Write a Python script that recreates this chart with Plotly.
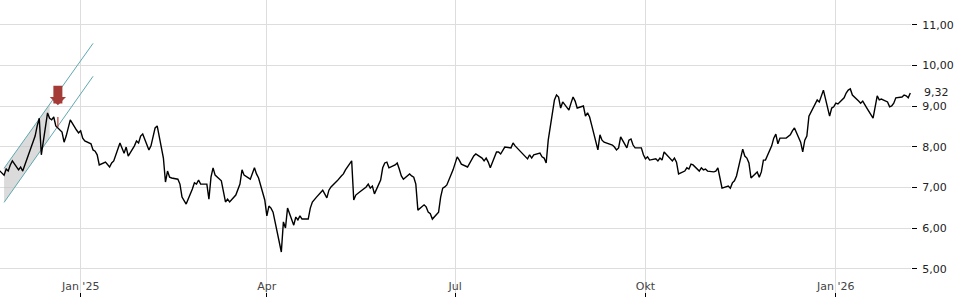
import pandas as pd
import plotly.graph_objects as go

# ---- data ----
trade_dates = pd.bdate_range("2024-11-22", "2026-02-06")
prices = [
    7.45,
    7.30, 7.45, 7.40, 7.55, 7.65,
    7.43, 7.50, 7.40, 7.55, 7.67,
    8.16, 8.26, 8.51, 8.70, 7.80,
    8.83, 8.70, 8.66, 8.73, 8.51,
    8.36, 8.11, 8.26, 8.46, 8.66,
    8.41, 8.34, 8.39, 8.21, 8.14,
    8.07, 7.92, 7.89, 7.80, 7.55,
    7.62, 7.57, 7.50, 7.60, 7.65,
    8.09, 7.97, 7.84, 7.99, 7.77,
    8.02, 8.14, 8.09, 8.26, 8.31,
    7.92, 8.02, 8.26, 8.46, 8.51,
    7.72, 7.13, 7.40, 7.25, 7.23,
    7.20, 7.08, 6.76, 6.66, 6.59,
    6.96, 7.11, 7.08, 7.18, 7.08,
    7.08, 6.71, 7.25, 7.48, 7.30,
    7.16, 6.93, 6.64, 6.71, 6.64,
    6.81, 6.93, 7.08, 7.43, 7.30,
    7.20, 7.35, 7.48, 7.33, 7.23,
    6.69, 6.30, 6.54, 6.49, 6.39,
    5.71, 5.41, 6.15, 6.00, 6.49,
    6.07, 6.27, 6.20, 6.30, 6.22,
    6.22, 6.49, 6.64, 6.69, 6.76,
    6.93, 6.84, 6.74, 6.93, 7.01,
    7.16, 7.23, 7.28, 7.33, 7.43,
    7.65, 6.69, 6.81, 6.84, 6.89,
    7.01, 7.08, 6.98, 7.03, 6.84,
    7.18, 7.48, 7.60, 7.62, 7.48,
    7.55, 7.60, 7.45, 7.28, 7.20,
    7.33, 7.28, 7.25, 7.08, 6.44,
    6.57, 6.52, 6.39, 6.35, 6.22,
    6.39, 6.76, 6.98, 7.01, 7.06,
    7.43, 7.60, 7.75, 7.67, 7.57,
    7.50, 7.60, 7.67, 7.77, 7.82,
    7.72, 7.65, 7.72, 7.62, 7.48,
    7.87, 7.87, 7.82, 7.92, 7.99,
    7.97, 8.09, 8.02, 7.97, 7.92,
    7.75, 7.70, 7.80, 7.72, 7.80,
    7.84, 7.75, 7.72, 7.60, 8.16,
    9.15, 9.27, 9.22, 8.95, 9.10,
    8.90, 9.07, 9.22, 9.12, 8.95,
    9.00, 8.75, 8.83, 8.73, 8.53,
    7.92, 8.29, 8.16, 8.11, 8.09,
    8.04, 7.99, 7.92, 7.97, 8.24,
    7.97, 8.16, 8.19, 8.04, 7.97,
    7.97, 7.80, 7.70, 7.75, 7.67,
    7.70, 7.65, 7.72, 7.67, 7.87,
    7.72, 7.65, 7.72, 7.62, 7.33,
    7.40, 7.48, 7.45, 7.57, 7.55,
    7.40, 7.48, 7.43, 7.45, 7.40,
    7.38, 7.40, 7.48, 7.23, 6.98,
    7.03, 6.98, 7.11, 7.16, 7.28,
    7.94, 7.77, 7.72, 7.60, 7.23,
    7.38, 7.25, 7.38, 7.67, 7.67,
    8.02, 8.21, 8.31, 8.07, 8.21,
    8.21, 8.26, 8.29, 8.39, 8.46,
    8.11, 7.87, 8.16, 8.26, 8.75,
    9.05, 9.15, 9.10, 9.25, 9.39,
    8.75, 8.95, 8.98, 9.07, 9.05,
    9.20, 9.32, 9.39, 9.42, 9.27,
    9.12, 9.07, 9.12, 9.05, 8.95,
    8.70, 8.98, 9.25, 9.15, 9.17,
    9.10, 8.98, 9.00, 9.07, 9.20,
    9.22, 9.27, 9.25, 9.20, 9.32,
]
n = min(len(trade_dates), len(prices))
trade_dates = trade_dates[:n]
prices = prices[:n]

# trend channel
channel_dates = ["2024-11-25", "2025-01-07"]
channel_upper = [7.47, 10.54]
channel_lower = [6.63, 9.73]
channel_fill_end = "2024-12-17"

# signal
signal_date = "2024-12-21"
signal_tip = 9.02
signal_bar = [8.73, 8.48]

tick_dates = ["2025-01-01", "2025-04-01", "2025-07-01", "2025-10-01", "2026-01-01"]
tick_labels = ["Jan '25", "Apr", "Jul", "Okt", "Jan '26"]
y_ticks = [5, 6, 7, 8, 9, 10, 11]

x_range = ["2024-11-23 00:36", "2026-02-06 08:00"]
y_range = [4.304, 11.606]

# ---- figure ----
fig = go.Figure()

# channel fill polygon (computed along the channel lines)
t0 = pd.Timestamp(channel_dates[0])
t1 = pd.Timestamp(channel_dates[1])
tf = pd.Timestamp(channel_fill_end)
frac = (tf - t0) / (t1 - t0)
up_f = channel_upper[0] + (channel_upper[1] - channel_upper[0]) * frac
lo_f = channel_lower[0] + (channel_lower[1] - channel_lower[0]) * frac
fig.add_trace(go.Scatter(
    x=[t0, tf, tf, t0, t0],
    y=[channel_upper[0], up_f, lo_f, channel_lower[0], channel_upper[0]],
    fill="toself", fillcolor="rgba(195,195,195,0.6)",
    line=dict(width=0), mode="lines", hoverinfo="skip", showlegend=False,
))
for vals in (channel_upper, channel_lower):
    fig.add_trace(go.Scatter(
        x=channel_dates, y=vals, mode="lines",
        line=dict(color="#5ea9b1", width=1), hoverinfo="skip", showlegend=False,
    ))

fig.add_trace(go.Scatter(
    x=trade_dates, y=prices, mode="lines",
    line=dict(color="#000000", width=1.4), showlegend=False,
))

fig.add_trace(go.Scatter(
    x=[signal_date, signal_date], y=signal_bar, mode="lines",
    line=dict(color="#c0392b", width=1.2), hoverinfo="skip", showlegend=False,
))

fig.add_annotation(
    x=signal_date, y=signal_tip, ax=0, ay=-21, text="",
    showarrow=True, arrowhead=1, arrowsize=0.3, arrowwidth=9,
    arrowcolor="#a53b36", standoff=0,
)

fig.add_annotation(
    x=1, xref="paper", y=prices[-1], yref="y",
    text=f"{prices[-1]:.2f}".replace(".", ","), showarrow=False,
    xanchor="left", yanchor="middle", xshift=11,
    font=dict(family="DejaVu Sans", size=11, color="#222222"),
)

fig.update_layout(
    width=960, height=300,
    margin=dict(l=0, r=49, t=0, b=3),
    paper_bgcolor="white", plot_bgcolor="white",
    separators=",.",
    font=dict(family="DejaVu Sans", size=11, color="#222222"),
    showlegend=False,
)
fig.update_xaxes(
    type="date", range=x_range,
    tickvals=tick_dates, ticktext=tick_labels,
    showgrid=True, gridcolor="#dddddd", gridwidth=1,
    ticks="inside", ticklen=4, tickcolor="#000000", tickwidth=1,
    ticklabelposition="inside", showline=False, zeroline=False,
)
fig.update_yaxes(
    side="right", range=y_range, tickvals=y_ticks, tickformat=".2f",
    showgrid=True, gridcolor="#dddddd", gridwidth=1,
    ticks="outside", ticklen=5, tickcolor="#000000", tickwidth=1,
    ticklabelstandoff=3, showline=False, zeroline=False,
)

fig.write_html("out.html")
